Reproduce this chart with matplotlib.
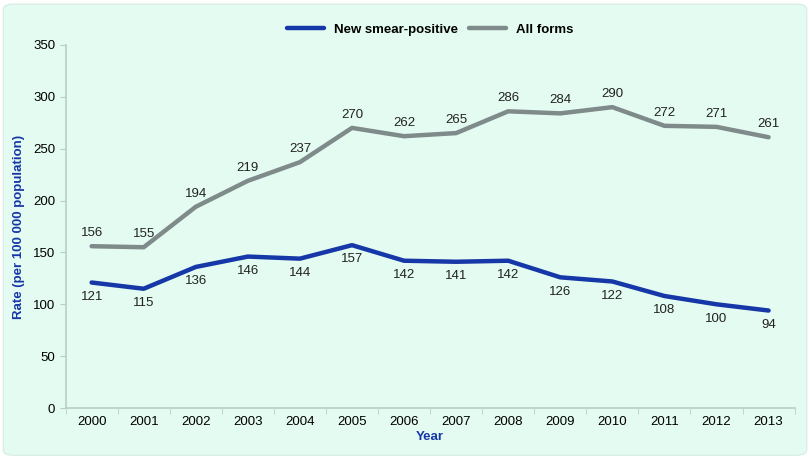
import matplotlib
matplotlib.use("Agg")
import matplotlib.pyplot as plt
from matplotlib.patches import FancyBboxPatch

plt.rcParams["font.family"] = ["Liberation Sans", "DejaVu Sans"]

years = ["2000", "2001", "2002", "2003", "2004", "2005", "2006",
         "2007", "2008", "2009", "2010", "2011", "2012", "2013"]
smear_pos = [121, 115, 136, 146, 144, 157, 142, 141, 142, 126, 122, 108, 100, 94]
all_forms = [156, 155, 194, 219, 237, 270, 262, 265, 286, 284, 290, 272, 271, 261]

BG = "#e3fbf0"
BLUE = "#1537a8"
GREY = "#7f8b8a"
AXIS = "#b8cfc4"

fig = plt.figure(figsize=(8.1, 4.58), dpi=100)
fig.patch.set_facecolor("white")
fig.patches.append(FancyBboxPatch((0.004, 0.006), 0.992, 0.985,
                                  boxstyle="round,pad=0,rounding_size=0.012",
                                  transform=fig.transFigure, facecolor=BG,
                                  edgecolor="#d5ece2", lw=0.8, zorder=-10))

ax = fig.add_axes([0.081, 0.109, 0.900, 0.793])
ax.set_facecolor("none")

x = list(range(len(years)))
ax.plot(x, smear_pos, color=BLUE, lw=3.2, solid_capstyle="round",
        solid_joinstyle="round", label="New smear-positive")
ax.plot(x, all_forms, color=GREY, lw=3.2, solid_capstyle="round",
        solid_joinstyle="round", label="All forms")

for xi, v in zip(x, smear_pos):
    ax.annotate(str(v), (xi, v), xytext=(0, -6), textcoords="offset points",
                ha="center", va="top", fontsize=9.5, color="#222222")
for xi, v in zip(x, all_forms):
    ax.annotate(str(v), (xi, v), xytext=(0, 5), textcoords="offset points",
                ha="center", va="bottom", fontsize=9.5, color="#222222")

ax.set_xlim(-0.5, len(years) - 0.5)
ax.set_ylim(0, 350)
ax.set_yticks(range(0, 351, 50))
ax.set_xticks(x)
ax.set_xticklabels(years)
ax.set_xticks([i - 0.5 for i in range(len(years) + 1)], minor=True)
ax.tick_params(axis="x", which="major", length=0, labelsize=9.5, pad=6)
ax.tick_params(axis="x", which="minor", length=4, color=AXIS)
ax.tick_params(axis="y", length=4, color=AXIS, labelsize=9.5)

for s in ["top", "right"]:
    ax.spines[s].set_visible(False)
for s in ["left", "bottom"]:
    ax.spines[s].set_color(AXIS)
    ax.spines[s].set_linewidth(1.2)

ax.set_xlabel("Year", color=BLUE, fontweight="bold", fontsize=9.5, labelpad=2)
ax.set_ylabel("Rate (per 100 000 population)", color=BLUE,
              fontweight="bold", fontsize=9.5, labelpad=6)

leg = ax.legend(loc="lower center", bbox_to_anchor=(0.5, 1.0), ncol=2,
                frameon=False, fontsize=9.5, handlelength=2.8,
                columnspacing=0.8, borderaxespad=0.3)
for t in leg.get_texts():
    t.set_fontweight("bold")

fig.savefig("out.png", dpi=100, facecolor=fig.get_facecolor())
